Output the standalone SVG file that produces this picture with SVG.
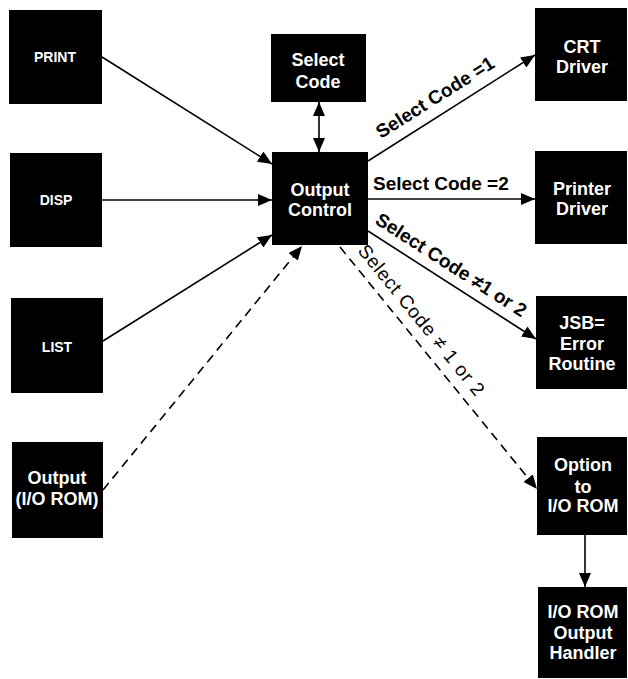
<svg xmlns="http://www.w3.org/2000/svg" width="628" height="679" viewBox="0 0 628 679">
<defs>
<style>
.box{fill:#000}
.t{fill:#fff;font-family:"Liberation Sans",Arial,sans-serif;font-weight:bold;font-size:18px;text-anchor:middle}
.ts{fill:#fff;font-family:"Liberation Sans",Arial,sans-serif;font-weight:bold;font-size:14px;text-anchor:middle}
.c{stroke:#000;stroke-width:1.6;fill:none}
.d{stroke:#000;stroke-width:1.6;fill:none;stroke-dasharray:9 6}
.lb{fill:#000;font-family:"Liberation Sans",Arial,sans-serif;font-weight:bold;font-size:19px}
.ll{fill:#000;font-family:"Liberation Sans",Arial,sans-serif;font-weight:normal;font-size:19px;letter-spacing:0.8px}
</style>
<marker id="ah" viewBox="0 0 14 12" refX="14" refY="6" markerWidth="14" markerHeight="12" markerUnits="userSpaceOnUse" orient="auto-start-reverse">
<path d="M0,0 L14,6 L0,12 z" fill="#000"/>
</marker>
</defs>
<rect width="628" height="679" fill="#fff"/>
<g id="connectors">
<line class="c" x1="102" y1="57" x2="272" y2="164" marker-end="url(#ah)"/>
<line class="c" x1="102" y1="200" x2="272" y2="200" marker-end="url(#ah)"/>
<line class="c" x1="103" y1="341" x2="272" y2="235" marker-end="url(#ah)"/>
<line class="d" x1="103" y1="490" x2="302" y2="246" marker-end="url(#ah)"/>
<line class="c" x1="319" y1="102" x2="319" y2="152" marker-start="url(#ah)" marker-end="url(#ah)"/>
<line class="c" x1="368" y1="161" x2="535" y2="55" marker-end="url(#ah)"/>
<line class="c" x1="368" y1="199" x2="535" y2="199" marker-end="url(#ah)"/>
<line class="c" x1="368" y1="231" x2="536" y2="339" marker-end="url(#ah)"/>
<line class="d" x1="340" y1="247" x2="537" y2="489" marker-end="url(#ah)"/>
<line class="c" x1="585" y1="535" x2="585" y2="587" marker-end="url(#ah)"/>
<text class="lb" transform="translate(381,139) rotate(-32.2)">Select Code  =1</text>
<text class="lb" x="373" y="190">Select Code  =2</text>
<text class="lb" transform="translate(374,223) rotate(32.7)">Select Code ≠1 or 2</text>
<text class="ll" transform="translate(357,251) rotate(50.9)">Select Code ≠ 1 or 2</text>
</g>
<g id="print"><rect class="box" x="9" y="10" width="93" height="94"/><text class="ts" x="55" y="62">PRINT</text></g>
<g id="disp"><rect class="box" x="10" y="153" width="92" height="94"/><text class="ts" x="56" y="205">DISP</text></g>
<g id="list"><rect class="box" x="11" y="298" width="92" height="95"/><text class="ts" x="57" y="352">LIST</text></g>
<g id="output-io-rom"><rect class="box" x="12" y="442" width="91" height="96"/><text class="t" x="57" y="484">Output</text><text class="t" x="57" y="505">(I/O ROM)</text></g>
<g id="select-code"><rect class="box" x="271" y="34" width="95" height="68"/><text class="t" x="318" y="66">Select</text><text class="t" x="318" y="88">Code</text></g>
<g id="output-control"><rect class="box" x="272" y="152" width="96" height="93"/><text class="t" x="320" y="196">Output</text><text class="t" x="320" y="216">Control</text></g>
<g id="crt-driver"><rect class="box" x="535" y="8" width="92" height="93"/><text class="t" x="582" y="53">CRT</text><text class="t" x="582" y="73">Driver</text></g>
<g id="printer-driver"><rect class="box" x="535" y="151" width="92" height="93"/><text class="t" x="582" y="195">Printer</text><text class="t" x="582" y="215">Driver</text></g>
<g id="jsb-error"><rect class="box" x="536" y="296" width="91" height="93"/><text class="t" x="582" y="329">JSB=</text><text class="t" x="582" y="350">Error</text><text class="t" x="582" y="370">Routine</text></g>
<g id="option-io-rom"><rect class="box" x="537" y="437" width="90" height="98"/><text class="t" x="583" y="471">Option</text><text class="t" x="583" y="493">to</text><text class="t" x="583" y="512">I/O ROM</text></g>
<g id="io-rom-handler"><rect class="box" x="538" y="587" width="89" height="91"/><text class="t" x="583" y="618">I/O ROM</text><text class="t" x="583" y="639">Output</text><text class="t" x="583" y="659">Handler</text></g>
</svg>
